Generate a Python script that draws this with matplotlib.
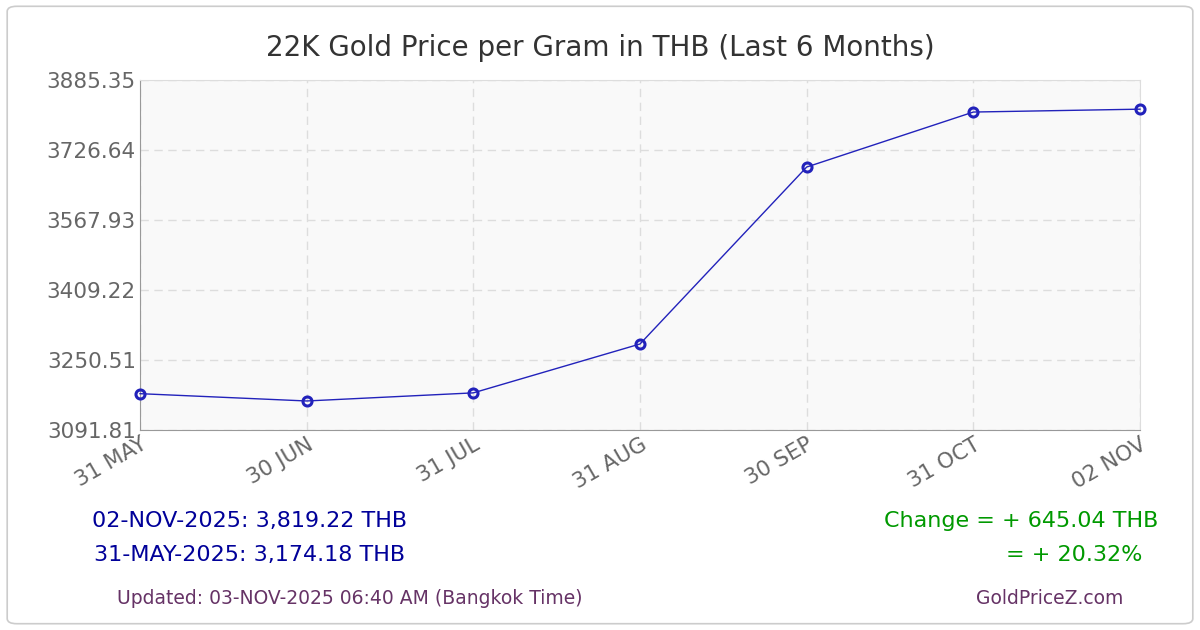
import matplotlib
matplotlib.use("Agg")
import matplotlib.pyplot as plt
from matplotlib.patches import FancyBboxPatch

dates = ["31 MAY", "30 JUN", "31 JUL", "31 AUG", "30 SEP", "31 OCT", "02 NOV"]
prices = [3174.18, 3157.6, 3176.0, 3286.8, 3688.0, 3812.7, 3819.22]
yticks = [3091.81, 3250.51, 3409.22, 3567.93, 3726.64, 3885.35]

fig = plt.figure(figsize=(12, 6.3), dpi=100)
fig.patches.append(FancyBboxPatch((0.006, 0.01), 0.988, 0.98, boxstyle="round,pad=0,rounding_size=0.008",
                                  transform=fig.transFigure, fc="white", ec="#cccccc", lw=1.2, zorder=-10))
ax = fig.add_axes([140 / 1200, 1 - 430 / 630, 1000 / 1200, 350 / 630])
ax.set_facecolor("#f9f9f9")
x = list(range(len(dates)))
ax.plot(x, prices, color="#2222bb", lw=1, marker="o", ms=6.5, mfc="none", mec="#2222bb", mew=2.2, clip_on=False, zorder=3)
ax.set_xlim(0, len(dates) - 1)
ax.set_ylim(yticks[0], yticks[-1])
ax.set_yticks(yticks)
ax.set_yticklabels([f"{v:.2f}" for v in yticks])
ax.set_xticks(x)
ax.set_xticklabels(dates, rotation=30, ha="right", rotation_mode="anchor")
ax.tick_params(colors="#666666", labelsize=15.5, length=0, pad=3)
ax.grid(True, color="#dddddd", ls=(0, (6, 4)), lw=1)
for s in ["top", "right"]:
    ax.spines[s].set_color("#dddddd")
for s in ["left", "bottom"]:
    ax.spines[s].set_color("#999999")

fig.text(0.5, 1 - 48 / 630, "22K Gold Price per Gram in THB (Last 6 Months)", ha="center", va="center", fontsize=20, color="#333333")
fig.text(250 / 1200, 1 - 521 / 630, "02-NOV-2025: 3,819.22 THB", ha="center", va="center", fontsize=16, color="#000099")
fig.text(250 / 1200, 1 - 555 / 630, "31-MAY-2025: 3,174.18 THB", ha="center", va="center", fontsize=16, color="#000099")
fig.text(1158 / 1200, 1 - 521 / 630, "Change = + 645.04 THB", ha="right", va="center", fontsize=16, color="#009900")
fig.text(1142 / 1200, 1 - 555 / 630, "= + 20.32%", ha="right", va="center", fontsize=16, color="#009900")
fig.text(350 / 1200, 1 - 598 / 630, "Updated: 03-NOV-2025 06:40 AM (Bangkok Time)", ha="center", va="center", fontsize=13.5, color="#663366")
fig.text(1050 / 1200, 1 - 598 / 630, "GoldPriceZ.com", ha="center", va="center", fontsize=13.5, color="#663366")

fig.savefig("out.png", dpi=100)
